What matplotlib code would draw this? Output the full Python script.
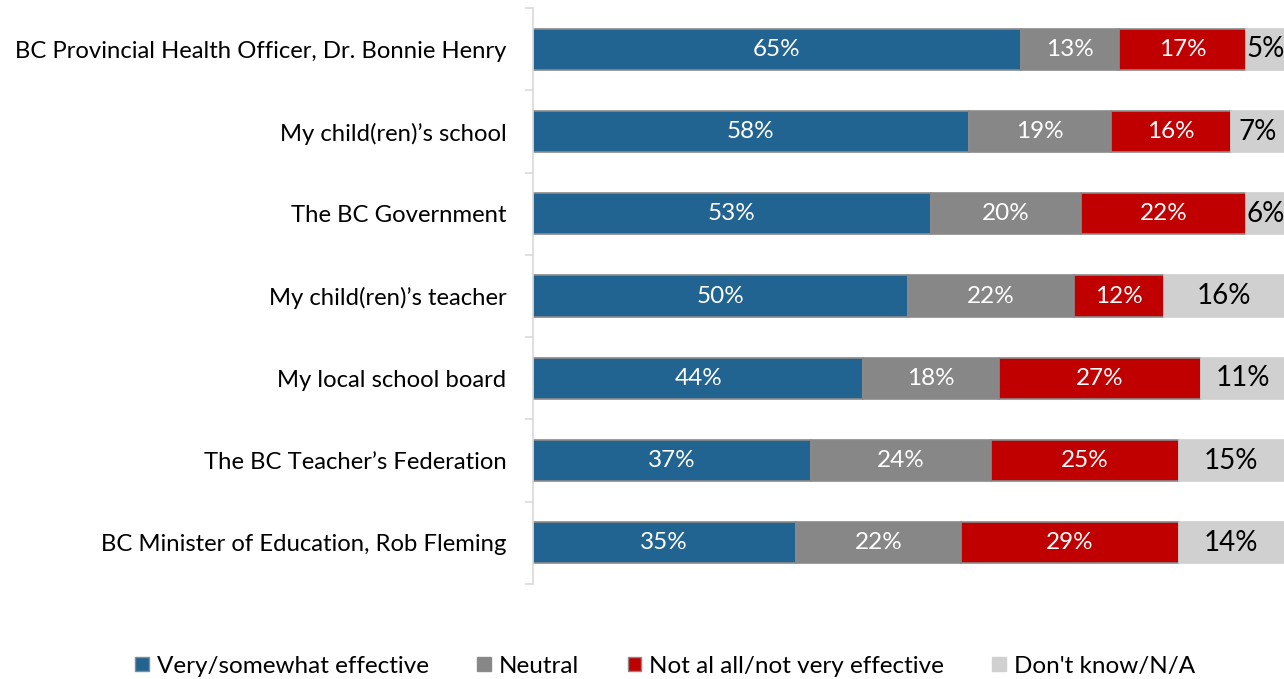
import numpy as np
import matplotlib.pyplot as plt
from matplotlib.patches import Patch

plt.rcParams['font.family'] = ['Lato', 'DejaVu Sans']

categories = [
    'BC Provincial Health Officer, Dr. Bonnie Henry',
    'My child(ren)\u2019s school',
    'The BC Government',
    'My child(ren)\u2019s teacher',
    'My local school board',
    'The BC Teacher\u2019s Federation',
    'BC Minister of Education, Rob Fleming',
]
effective = [65, 58, 53, 50, 44, 37, 35]
neutral = [13, 19, 20, 22, 18, 24, 22]
not_effective = [17, 16, 22, 12, 27, 25, 29]
dont_know = [5, 7, 6, 16, 11, 15, 14]

series_names = ['Very/somewhat effective', 'Neutral',
                'Not al all/not very effective', "Don't know/N/A"]
colors = ['#226491', '#878787', '#c00000', '#d0d0d0']
edges = ['#8a8a8a', '#8a8a8a', '#8a8a8a', '#d0d0d0']
label_colors = ['white', 'white', 'white', 'black']
label_sizes = [17.5, 17.5, 17.5, 20]

fig = plt.figure(figsize=(12.84, 6.79), dpi=100)
ax = fig.add_axes([0.415, 0.140, 0.585, 0.848])

y = np.arange(len(categories))
left = np.zeros(len(categories))
for vals, name, c, ec, lc, ls in zip([effective, neutral, not_effective, dont_know],
                                      series_names, colors, edges, label_colors, label_sizes):
    bars = ax.barh(y, vals, left=left, height=0.5, color=c, edgecolor=ec,
                   linewidth=1.2, label=name)
    ax.bar_label(bars, labels=[f'{v}%' for v in vals], label_type='center',
                 color=lc, fontsize=ls)
    left += np.array(vals)

ax.set_xlim(0, 100)
ax.set_ylim(len(categories) - 0.5, -0.5)
ax.set_yticks(y)
ax.set_yticklabels(categories, fontsize=17.2)
ax.set_yticks(np.arange(-0.5, len(categories)), minor=True)
ax.tick_params(axis='y', which='major', length=0, pad=19)
ax.tick_params(axis='y', which='minor', length=6, color='#d9d9d9', width=1.2)
ax.set_xticks([])
for s in ['top', 'right', 'bottom']:
    ax.spines[s].set_visible(False)
ax.spines['left'].set_color('#d9d9d9')
ax.spines['left'].set_linewidth(1.2)

handles = [Patch(facecolor=c, edgecolor=ec, linewidth=1) for c, ec in zip(colors, edges)]
fig.legend(handles, series_names, loc='center', bbox_to_anchor=(0.518, 0.019),
           ncol=4, frameon=False, fontsize=17.5, handlelength=0.55, handleheight=0.55,
           handletextpad=0.33, columnspacing=2.0)

fig.savefig('out.png', dpi=100)
